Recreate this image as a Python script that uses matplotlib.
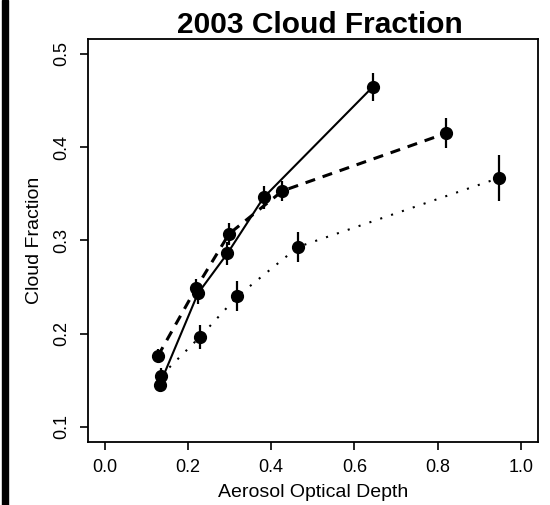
import matplotlib
matplotlib.use("Agg")
import matplotlib.pyplot as plt
from matplotlib.patches import Rectangle

plt.rcParams['font.family'] = ['Liberation Sans', 'DejaVu Sans']

# cloud fraction vs aerosol optical depth, three groups
aod_solid = [0.132, 0.224, 0.295, 0.382, 0.645]
cf_solid = [0.145, 0.243, 0.286, 0.346, 0.465]
err_solid = [0.008, 0.011, 0.012, 0.012, 0.015]

aod_dash = [0.128, 0.220, 0.299, 0.427, 0.821]
cf_dash = [0.176, 0.249, 0.307, 0.353, 0.415]
err_dash = [0.007, 0.010, 0.012, 0.011, 0.016]

aod_dot = [0.136, 0.228, 0.319, 0.465, 0.948]
cf_dot = [0.155, 0.196, 0.240, 0.293, 0.367]
err_dot = [0.008, 0.013, 0.016, 0.016, 0.025]

xticks = [0.0, 0.2, 0.4, 0.6, 0.8, 1.0]
yticks = [0.1, 0.2, 0.3, 0.4, 0.5]

fig = plt.figure(figsize=(5.5, 5.05), dpi=100)
ax = fig.add_axes([0.16, 0.1253, 0.8173, 0.7975])

series = [
    (aod_solid, cf_solid, err_solid, '-', 1.5),
    (aod_dash, cf_dash, err_dash, (0, (3.3, 2.6)), 2.2),
    (aod_dot, cf_dot, err_dot, (0, (1, 4.5)), 1.5),
]
for x, y, e, ls, lw in series:
    ax.plot(x, y, color='black', linestyle=ls, linewidth=lw)
    ax.errorbar(x, y, yerr=e, fmt='o', color='black', markersize=8.5,
                elinewidth=1.6, capsize=0)

ax.set_xlim(-0.04, 1.04)
ax.set_ylim(0.084, 0.516)
ax.set_xticks(xticks)
ax.set_yticks(yticks)
ax.set_xticklabels(['%.1f' % v for v in xticks])
ax.set_yticklabels(['%.1f' % v for v in yticks], rotation=90, va='center')
ax.tick_params(direction='out', length=5.5, width=1.2, labelsize=13, pad=7)
for s in ax.spines.values():
    s.set_linewidth(1.3)

ax.set_xlabel('Aerosol Optical Depth', fontsize=14, labelpad=6)
ax.set_ylabel('Cloud Fraction', fontsize=14, labelpad=8)
ax.set_title('2003 Cloud Fraction', fontsize=21.5, fontweight='bold',
             x=0.516, pad=3)

# thick bar down the left edge
fig.patches.append(Rectangle((2 / 550, 0), 5.5 / 550, 1, transform=fig.transFigure,
                             color='black', zorder=0))

fig.savefig('out.png', dpi=100)
